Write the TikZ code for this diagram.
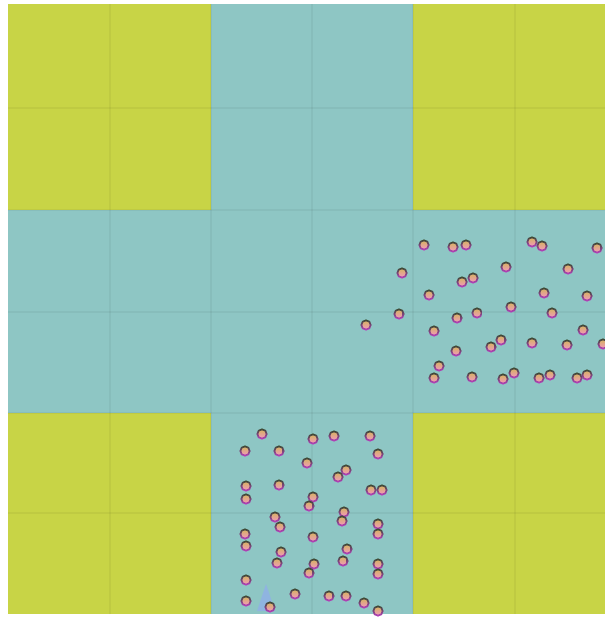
\documentclass[tikz,border=0pt]{standalone}
\definecolor{yel}{HTML}{C8D446}
\definecolor{cya}{HTML}{8EC6C4}
\definecolor{ringlow}{HTML}{C040C8}
\definecolor{ringtop}{HTML}{3A4A30}
\definecolor{dotlow}{HTML}{F09AB8}
\definecolor{dottop}{HTML}{D8B068}
\definecolor{tri}{HTML}{90AEEA}
\begin{document}
\begin{tikzpicture}[x=0.75pt,y=-0.75pt,
  agent/.style={circle,inner sep=0pt,minimum size=8.4pt,top color=ringtop,bottom color=ringlow},
  agentcore/.style={top color=dottop,bottom color=dotlow},
  gridln/.style={draw=black,opacity=0.045,line width=1.2pt}]
\useasboundingbox (0,0) rectangle (605,617);
\fill[white] (0,0) rectangle (605,617);
% background field
\fill[yel] (8,4) rectangle (605,614);
\fill[cya] (211,4) rectangle (413,614);
\fill[cya] (8,210) rectangle (605,413);
% grid
\foreach \gx in {110,211,312,413,515} \draw[gridln] (\gx,4) -- (\gx,614);
\foreach \gy in {108,210,312,413,513} \draw[gridln] (8,\gy) -- (605,\gy);
% faint triangle marker
\fill[tri,opacity=0.75] (266,584) -- (275,611) -- (257,611) -- cycle;
% agents, bottom arm
\foreach \ax/\ay [count=\i] in {262/434,313/439,334/436,370/436,245/451,279/451,378/454,307/463,346/470,338/477,
246/486,279/485,371/490,382/490,246/499,313/497,309/506,344/512,342/521,275/517,
280/527,378/524,378/534,245/534,246/546,313/537,347/549,281/552,277/563,343/561,
314/564,309/573,378/564,378/574,246/580,295/594,329/596,346/596,246/601,270/607,
364/603,378/611}
  {\node[agent] (b\i) at (\ax,\ay) {};
   \shade[agentcore] (b\i) circle (3.6);}
% agents, right arm
\foreach \ax/\ay [count=\i] in {424/245,453/247,466/245,532/242,542/246,597/248,402/273,506/267,568/269,462/282,
473/278,429/295,544/293,587/296,399/314,457/318,477/313,511/307,552/313,366/325,
434/331,583/330,491/347,501/340,532/343,567/345,603/344,456/351,439/366,434/378,
472/377,503/379,514/373,539/378,550/375,577/378,587/375}
  {\node[agent] (r\i) at (\ax,\ay) {};
   \shade[agentcore] (r\i) circle (3.6);}
\end{tikzpicture}
\end{document}
